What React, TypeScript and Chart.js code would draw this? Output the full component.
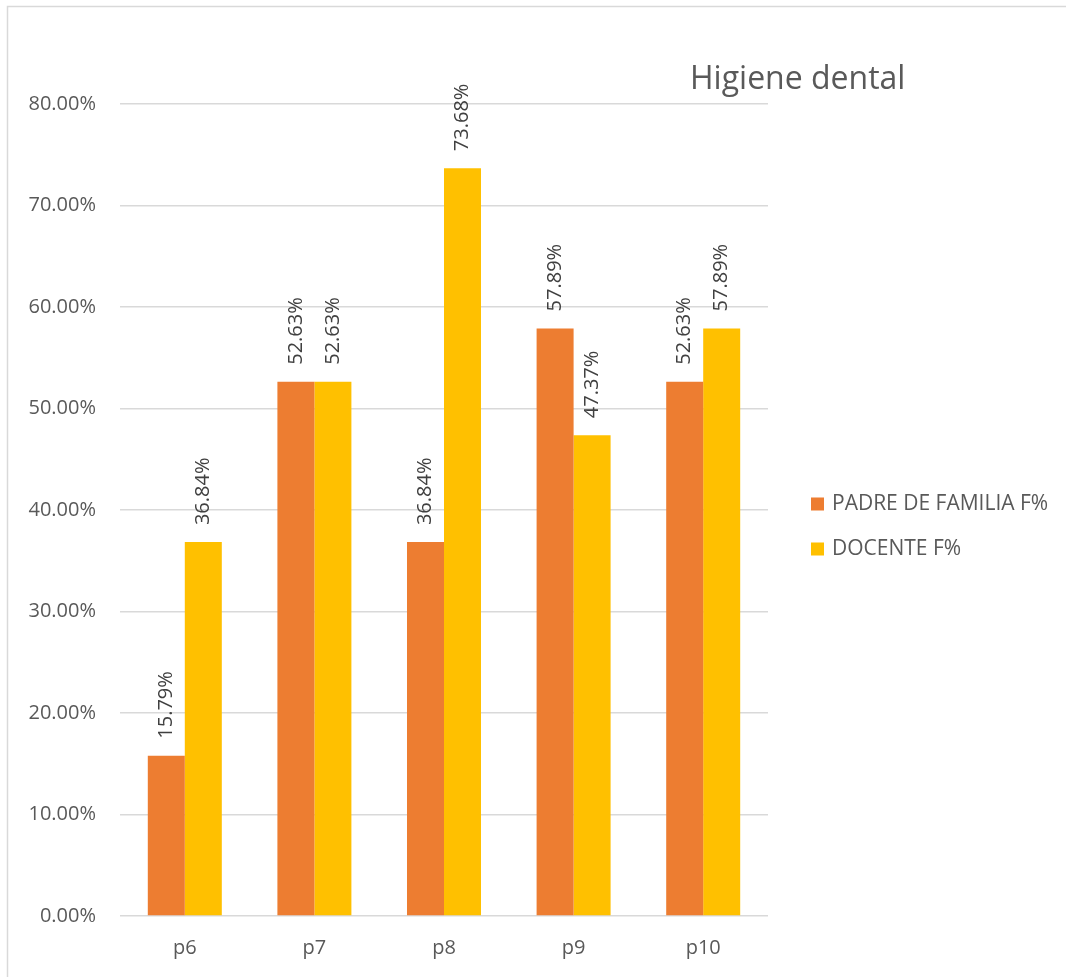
import React, { useEffect, useRef } from 'react';
import { Chart, registerables } from 'chart.js';

Chart.register(...registerables);

// Survey results: share of answers per question
const categories = ['p6', 'p7', 'p8', 'p9', 'p10'];
const padreValues = [15.79, 52.63, 36.84, 57.89, 52.63];
const docenteValues = [36.84, 52.63, 73.68, 47.37, 57.89];
const yTicks = [0, 10, 20, 30, 40, 50, 60, 70, 80];
const seriesNames = ['PADRE DE FAMILIA F%', 'DOCENTE F%'];
const seriesColors = ['#ED7D31', '#FFC000'];
const chartTitle = 'Higiene dental';

const FONT = '"Open Sans", "Noto Sans", sans-serif';
const TEXT_GREY = '#595959';
const LABEL_GREY = '#404040';
const LINE_GREY = '#d9d9d9';

const fmtPct = (v: number) => v.toFixed(2) + '%';

// Outer frame of the chart
const framePlugin = {
  id: 'frame',
  beforeDraw(chart: any) {
    const { ctx, width, height } = chart;
    ctx.save();
    ctx.fillStyle = '#ffffff';
    ctx.fillRect(0, 0, width, height);
    ctx.strokeStyle = LINE_GREY;
    ctx.lineWidth = 1.5;
    ctx.beginPath();
    ctx.moveTo(7.5, height);
    ctx.lineTo(7.5, 6.5);
    ctx.lineTo(width, 6.5);
    ctx.stroke();
    ctx.restore();
  },
};

// Vertical value labels above each bar
const valueLabelPlugin = {
  id: 'valueLabels',
  afterDatasetsDraw(chart: any) {
    const { ctx } = chart;
    chart.data.datasets.forEach((ds: any, i: number) => {
      const meta = chart.getDatasetMeta(i);
      meta.data.forEach((bar: any, j: number) => {
        const v = ds.data[j] as number;
        ctx.save();
        ctx.translate(bar.x, bar.y - 17);
        ctx.rotate(-Math.PI / 2);
        ctx.font = `20px ${FONT}`;
        ctx.fillStyle = LABEL_GREY;
        ctx.textAlign = 'left';
        ctx.textBaseline = 'middle';
        ctx.fillText(fmtPct(v), 0, 0);
        ctx.restore();
      });
    });
  },
};

// Title in the upper right corner and legend to the right of the plot
const titleLegendPlugin = {
  id: 'titleLegend',
  afterDraw(chart: any) {
    const { ctx, chartArea } = chart;
    ctx.save();
    ctx.font = `32px ${FONT}`;
    ctx.fillStyle = TEXT_GREY;
    ctx.textAlign = 'left';
    ctx.textBaseline = 'alphabetic';
    ctx.fillText(chartTitle, chartArea.right - 78, chartArea.top - 15);

    const legendX = chartArea.right + 43;
    const legendY = chartArea.top + 400;
    chart.data.datasets.forEach((ds: any, i: number) => {
      const cy = legendY + i * 45;
      ctx.fillStyle = ds.backgroundColor;
      ctx.fillRect(legendX, cy - 6.5, 13, 13);
      ctx.font = `21px ${FONT}`;
      ctx.fillStyle = TEXT_GREY;
      ctx.textBaseline = 'middle';
      ctx.fillText(ds.label, legendX + 21, cy);
    });
    ctx.restore();
  },
};

export default function App() {
  const canvasRef = useRef<HTMLCanvasElement | null>(null);

  useEffect(() => {
    if (!canvasRef.current) return;
    const chart = new Chart(canvasRef.current, {
      type: 'bar',
      data: {
        labels: categories,
        datasets: [
          {
            label: seriesNames[0],
            data: padreValues,
            backgroundColor: seriesColors[0],
            borderWidth: 0,
            barPercentage: 1,
            categoryPercentage: 0.571,
          },
          {
            label: seriesNames[1],
            data: docenteValues,
            backgroundColor: seriesColors[1],
            borderWidth: 0,
            barPercentage: 1,
            categoryPercentage: 0.571,
          },
        ],
      },
      options: {
        responsive: false,
        animation: false,
        layout: { padding: { left: 26, top: 104, right: 298, bottom: 0 } },
        plugins: {
          legend: { display: false },
          title: { display: false },
          tooltip: { enabled: false },
        },
        scales: {
          x: {
            afterFit: (scale: any) => {
              scale.height = 61;
            },
            grid: { display: false, drawTicks: false },
            border: { display: false },
            ticks: { color: TEXT_GREY, font: { family: FONT, size: 20 }, padding: 20 },
          },
          y: {
            min: 0,
            max: 80,
            afterBuildTicks: (scale: any) => {
              scale.ticks = yTicks.map((v) => ({ value: v }));
            },
            afterFit: (scale: any) => {
              scale.width = 94;
            },
            grid: { color: LINE_GREY, lineWidth: 1.5, drawTicks: false },
            border: { display: false },
            ticks: {
              color: TEXT_GREY,
              font: { family: FONT, size: 20 },
              padding: 24,
              callback: (v: any) => fmtPct(Number(v)),
            },
          },
        },
      },
      plugins: [framePlugin, valueLabelPlugin, titleLegendPlugin],
    });
    return () => chart.destroy();
  }, []);

  return (
    <div style={{ position: 'fixed', left: 0, top: 0, width: 1066, height: 977 }}>
      <canvas ref={canvasRef} width={1066} height={977} style={{ display: 'block' }} />
    </div>
  );
}
